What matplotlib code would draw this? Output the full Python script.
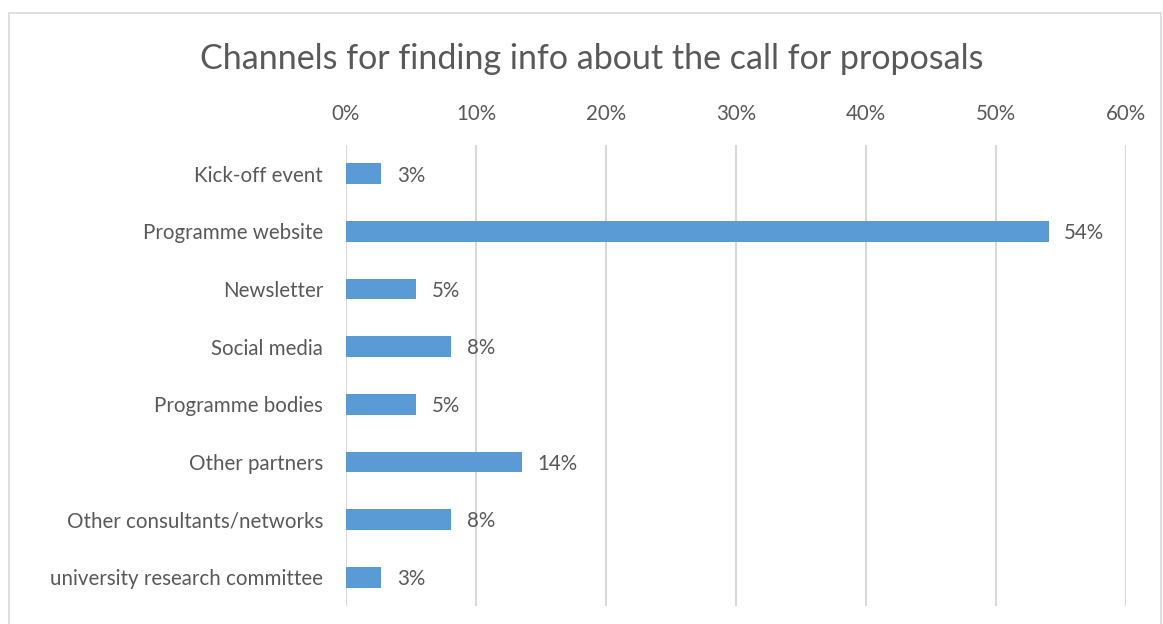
import matplotlib
matplotlib.use("Agg")
import matplotlib.pyplot as plt
from matplotlib.patches import Rectangle
from matplotlib.ticker import FuncFormatter

categories = ["Kick-off event", "Programme website", "Newsletter", "Social media",
              "Programme bodies", "Other partners", "Other consultants/networks",
              "university research committee"]
shares = [2.7, 54.05, 5.4, 8.1, 5.4, 13.5, 8.1, 2.7]
labels = ["3%", "54%", "5%", "8%", "5%", "14%", "8%", "3%"]

grey = "#595959"
plt.rcParams["font.family"] = ["Lato", "DejaVu Sans"]

fig = plt.figure(figsize=(11.63, 6.24), dpi=100)
fig.patches.append(Rectangle((9 / 1163, -0.1), 1152 / 1163, 1.1 - 13 / 624,
                             transform=fig.transFigure, fill=False,
                             edgecolor="#d9d9d9", linewidth=1.2))

ax = fig.add_axes([346 / 1163, 1 - 606 / 624, 780 / 1163, 461 / 624])
y = range(len(categories))
ax.barh(y, shares, height=0.36, color="#5b9bd5", zorder=3)
for yi, v, lab in zip(y, shares, labels):
    ax.text(v + 1.2, yi + 0.03, lab, va="center", ha="left", fontsize=14.8, color=grey)

ax.set_ylim(len(categories) - 0.5, -0.5)
ax.set_xlim(0, 60)
ax.set_xticks(range(0, 61, 10))
ax.xaxis.set_major_formatter(FuncFormatter(lambda v, p: f"{v:.0f}%"))
ax.xaxis.tick_top()
ax.set_yticks(list(y))
ax.set_yticklabels(categories)
ax.tick_params(axis="x", length=0, pad=15, labelsize=14.8, labelcolor=grey)
ax.tick_params(axis="y", length=0, pad=16.5, labelsize=14.8, labelcolor=grey)
ax.grid(axis="x", color="#d9d9d9", linewidth=1.5, zorder=0)
for s in ax.spines.values():
    s.set_visible(False)

fig.text(592 / 1163, 1 - 59 / 624, "Channels for finding info about the call for proposals",
         ha="center", va="center", fontsize=24.5, color=grey)

fig.savefig("out.png", dpi=100)
